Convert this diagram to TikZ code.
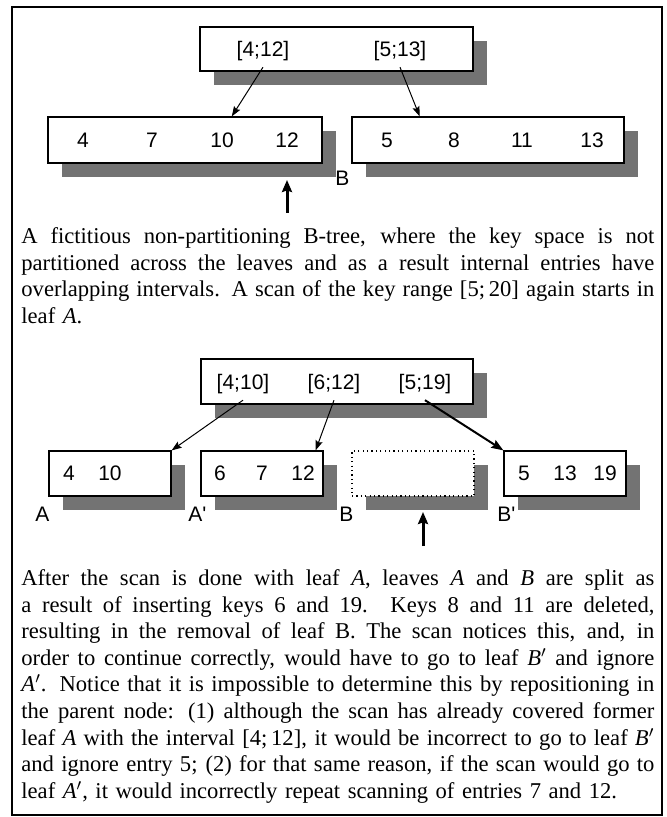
\documentclass[tikz,border=0pt]{standalone}
\usepackage{fontspec}
\setmainfont{Liberation Serif}
\newfontfamily\helv{Liberation Sans}
\usepackage{tikz}
\usetikzlibrary{calc,arrows.meta,shadows}

\newlength{\capw}
\setlength{\capw}{316.5pt}
\newcommand{\jl}[1]{\makebox[\capw][s]{\spaceskip=0pt\xspaceskip=0pt\strut#1}}

\tikzset{
    page/.style={line width=0.75pt},
    inode/.style={draw, line width=0.6pt, fill=white, inner sep=0pt, minimum height=22.5pt,
        drop shadow={shadow xshift=6.75pt, shadow yshift=-7pt, opacity=1, fill=black!55}},
    leaf/.style={inode},
    gone/.style={inode, dash pattern=on 0.6pt off 1.6pt},
    key/.style={font=\helv\fontsize{10.5}{12}\selectfont, inner sep=3pt},
    lbl/.style={font=\helv\fontsize{10.5}{12}\selectfont, inner sep=0pt},
    ptr/.style={line width=0.5pt, -{Stealth[length=5pt,width=3.6pt,inset=0.8pt]}},
    bptr/.style={line width=1pt, -{Stealth[length=6pt,width=4.4pt,inset=0.8pt]}},
    scan/.style={line width=1.5pt, -{Stealth[length=6pt,width=5pt,inset=0.8pt]}},
    para/.style={anchor=north west, inner sep=0pt, text width=\capw, align=left,
        font=\fontsize{11.3}{13.3}\selectfont}
}

\begin{document}
\begin{tikzpicture}[x=0.5pt,y=-0.5pt]
    \useasboundingbox (0,0) rectangle (666,817);
    \draw[page] (12,7) rectangle (662,815);

    % non-partitioning tree
    \node[inode, minimum width=136.5pt, minimum height=22pt] (r1) at (336.5,49) {};
    \node[key] (k412) at (263,51) {[4;12]};
    \node[key] (k513) at (400,51) {[5;13]};
    \node[leaf, minimum width=137pt, minimum height=23pt] (l1) at (185,140) {};
    \node[leaf, minimum width=136pt, minimum height=23pt] (l2) at (488,140) {};
    \foreach \k/\x in {4/83,7/152,10/222,12/287}
        \node[key] (a\k) at (\x,140) {\k};
    \foreach \k/\x in {5/387,8/454,11/522,13/592}
        \node[key] (b\k) at (\x,140) {\k};
    \draw[ptr] (k412.south) -- ($(l1.north west)!0.67!(l1.north east)$);
    \draw[ptr] (k513.south) -- ($(l2.north west)!0.25!(l2.north east)$);
    \node[lbl] (lb1) at ([xshift=-4.5pt,yshift=-7.5pt]l2.south west) {B};
    \path coordinate (S1) at (287,213);
    \draw[scan] (S1) -- ++(0,-33);

    \node[para] (t1) at (21,224.4) {%
        \jl{A fictitious non-partitioning B-tree, where the key space is not}\\
        \jl{partitioned across the leaves and as a result internal entries have}\\
        \jl{overlapping intervals. A scan of the key range [5;\,20] again starts in}\\
        \strut leaf \textit{A}.};

    % after the splits
    \node[inode, minimum width=136pt] (r2) at (337,381.5) {};
    \node[key] (k410) at (243,384) {[4;10]};
    \node[key] (k612) at (334,384) {[6;12]};
    \node[key] (k519) at (425,384) {[5;19]};
    \node[leaf, minimum width=61pt] (la) at (110,473.5) {};
    \node[leaf, minimum width=61pt] (lap) at (262,473.5) {};
    \node[gone, minimum width=61pt] (lb) at (413,473.5) {};
    \node[leaf, minimum width=61pt] (lbp) at (565,473.5) {};
    \foreach \k/\x in {4/69,10/110}
        \node[key] (c\k) at (\x,473) {\k};
    \foreach \k/\x in {6/220,7/262,12/303}
        \node[key] (d\k) at (\x,473) {\k};
    \foreach \k/\x in {5/524,13/565,19/605}
        \node[key] (e\k) at (\x,473) {\k};
    \draw[ptr] (k410.south) -- (la.north east);
    \draw[ptr] (k612.south) -- ([xshift=-4pt]lap.north east);
    \draw[bptr] (k519.south) -- (lbp.north west);
    \node[lbl] (lba) at ([xshift=-3pt,yshift=-9pt]la.south west) {A};
    \node[lbl] (lbap) at ([xshift=-1.5pt,yshift=-9pt]lap.south west) {A'};
    \node[lbl] (lbb) at ([xshift=-2.5pt,yshift=-9pt]lb.south west) {B};
    \node[lbl] (lbbp) at ([xshift=1.5pt,yshift=-9pt]lbp.south west) {B'};
    \path coordinate (S2) at (423,546);
    \draw[scan] (S2) -- ++(0,-34);

    \node[para] (t2) at (21,566.4) {%
        \jl{After the scan is done with leaf \textit{A}, leaves \textit{A} and \textit{B} are split as}\\
        \jl{a result of inserting keys 6 and 19. Keys 8 and 11 are deleted,}\\
        \jl{resulting in the removal of leaf B. The scan notices this, and, in}\\
        \jl{order to continue correctly, would have to go to leaf \textit{B}$'$ and ignore}\\
        \jl{\textit{A}$'$. Notice that it is impossible to determine this by repositioning in}\\
        \jl{the parent node: (1) although the scan has already covered former}\\
        \jl{leaf \textit{A} with the interval [4;\,12], it would be incorrect to go to leaf \textit{B}$'$}\\
        \jl{and ignore entry 5; (2) for that same reason, if the scan would go to}\\
        \strut leaf \textit{A}$'$, it would incorrectly repeat scanning of entries 7 and 12.};
\end{tikzpicture}
\end{document}
